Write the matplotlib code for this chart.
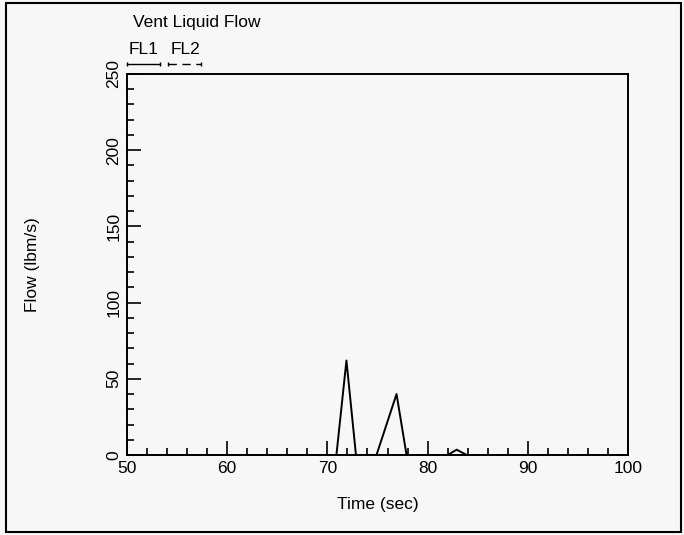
import matplotlib.pyplot as plt
from matplotlib.patches import Rectangle
from matplotlib.lines import Line2D

plt.rcParams['font.family'] = ['Liberation Sans', 'DejaVu Sans']

# FL1 - vent liquid flow (lbm/s) vs time (sec)
tempo_fl1 = [50, 70.9, 71.9, 72.85, 74.9, 76.9, 77.9, 78.7, 82.0, 82.9, 83.9, 100]
fluxo_fl1 = [0, 0, 62, 0, 0, 40, 0, 0, 0, 3.5, 0, 0]
# FL2 - stays at zero
tempo_fl2 = [50, 100]
fluxo_fl2 = [0, 0]

xticks = [50, 60, 70, 80, 90, 100]
yticks = [0, 50, 100, 150, 200, 250]

W, H = 684, 535
fig = plt.figure(figsize=(W / 100, H / 100), dpi=100, facecolor='#f7f7f7')
ax = fig.add_axes([127 / W, 1 - 455 / H, 501 / W, 381 / H])
ax.set_facecolor('#f7f7f7')

ax.plot(tempo_fl1, fluxo_fl1, color='black', lw=1.4, label='FL1')
ax.plot(tempo_fl2, fluxo_fl2, color='black', lw=1.4, ls=(0, (5, 4)), label='FL2')

ax.set_xlim(50, 100)
ax.set_ylim(0, 250)
ax.set_xticks(xticks)
ax.set_xticks(range(52, 100, 2), minor=True)
ax.set_yticks(yticks)
ax.set_yticks(range(10, 250, 10), minor=True)
ax.tick_params(which='major', direction='in', length=10, width=1.2, labelsize=12.5, pad=4)
ax.tick_params(which='minor', direction='in', length=5, width=1.2)
for lbl in ax.get_yticklabels():
    lbl.set_rotation(90)
    lbl.set_va('center')
for s in ax.spines.values():
    s.set_linewidth(1.4)

ax.set_xlabel('Time (sec)', fontsize=12.5)
ax.xaxis.set_label_coords(0.5, -0.11)
ax.set_ylabel('Flow (lbm/s)', fontsize=12.5)
ax.yaxis.set_label_coords(-0.174, 0.5)

# title and hand-made legend above the axes
fig.text(133 / W, 1 - 22 / H, 'Vent Liquid Flow', fontsize=12.5, va='center', ha='left')
fig.text(129 / W, 1 - 49 / H, 'FL1', fontsize=12.5, va='center', ha='left')
fig.text(171 / W, 1 - 49 / H, 'FL2', fontsize=12.5, va='center', ha='left')
fig.add_artist(Line2D([127 / W, 160 / W], [1 - 64 / H, 1 - 64 / H], color='black', lw=1,
                      marker='|', markersize=3, transform=fig.transFigure))
fig.add_artist(Line2D([168 / W, 201 / W], [1 - 64 / H, 1 - 64 / H], color='black', lw=1,
                      ls=(0, (6, 4)), marker='|', markersize=3, transform=fig.transFigure))

# page frame
fig.add_artist(Rectangle((6 / W, 1 - 532 / H), 675 / W, 529 / H, fill=False,
                         edgecolor='black', lw=1.5, transform=fig.transFigure))

plt.savefig('out.png', dpi=100, facecolor=fig.get_facecolor())
